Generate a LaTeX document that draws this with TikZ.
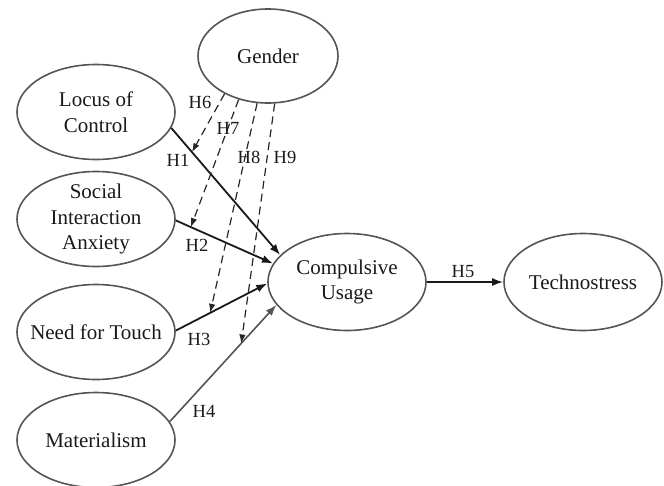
\documentclass[tikz,border=0pt]{standalone}
\usepackage{fontspec}
\setmainfont{Liberation Serif}
\usetikzlibrary{shapes.geometric,arrows.meta}
\definecolor{eline}{HTML}{555555}
\definecolor{txt}{HTML}{1a1a1a}
\tikzset{
  var/.style={ellipse, draw=eline, line width=1.6pt, minimum width=158pt, minimum height=95pt, inner sep=-30pt, align=center, text=txt, font=\fontsize{21}{25.5}\selectfont},
  hyp/.style={line width=1.8pt, draw=black!90, -{Latex[length=11pt,width=8pt]}},
  hypg/.style={line width=1.6pt, draw=eline, -{Latex[length=11pt,width=8pt]}},
  moder/.style={line width=1.2pt, draw=black!85, dash pattern=on 8pt off 5pt, -{Latex[length=9pt,width=6.5pt]}},
  lab/.style={text=txt, font=\fontsize{18.5}{20}\selectfont, inner sep=0pt}
}
\begin{document}
\begin{tikzpicture}[x=1pt,y=-1pt]
\useasboundingbox (0,0) rectangle (664,485);
\node[var, minimum width=140pt, minimum height=94pt] (gen) at (268,56) {Gender};
\node[var] (loc) at (96,112) {Locus of\\Control};
\node[var] (sia) at (96,219) {Social\\Interaction\\Anxiety};
\node[var] (nft) at (96,332) {Need for Touch};
\node[var] (mat) at (96,440) {Materialism};
\node[var, minimum width=158pt, minimum height=97pt] (cu) at (347,282) {Compulsive\\Usage};
\node[var, minimum width=158pt, minimum height=97pt] (tec) at (583,282) {Technostress};

\draw[hyp] (loc.-12) -- coordinate[pos=0.19] (m1) (cu.158);
\draw[hyp] (sia.-1.5) -- coordinate[pos=0.155] (m2) (cu.166);
\draw[hyp] (nft.1.5) -- coordinate[pos=0.376] (m3) (cu.181);
\draw[hypg] (mat.14) -- coordinate[pos=0.67] (m4) (cu.198);
\draw[hyp] (cu) -- (tec);

\draw[moder] (gen.-139) -- (m1);
\draw[moder] (gen.-124) -- (m2);
\draw[moder] (gen.-103) -- (m3);
\draw[moder] (gen.-82) -- (m4);

\node[lab] (l6) at (200,102) {H6};
\node[lab] (l7) at (228,128) {H7};
\node[lab] (l8) at (249,157) {H8};
\node[lab] (l9) at (285,157) {H9};
\node[lab] (l1) at (178,160) {H1};
\node[lab] (l2) at (197,245) {H2};
\node[lab] (l3) at (199,339) {H3};
\node[lab] (l4) at (204,411) {H4};
\node[lab] (l5) at (463,272) {H5};
\end{tikzpicture}
\end{document}
